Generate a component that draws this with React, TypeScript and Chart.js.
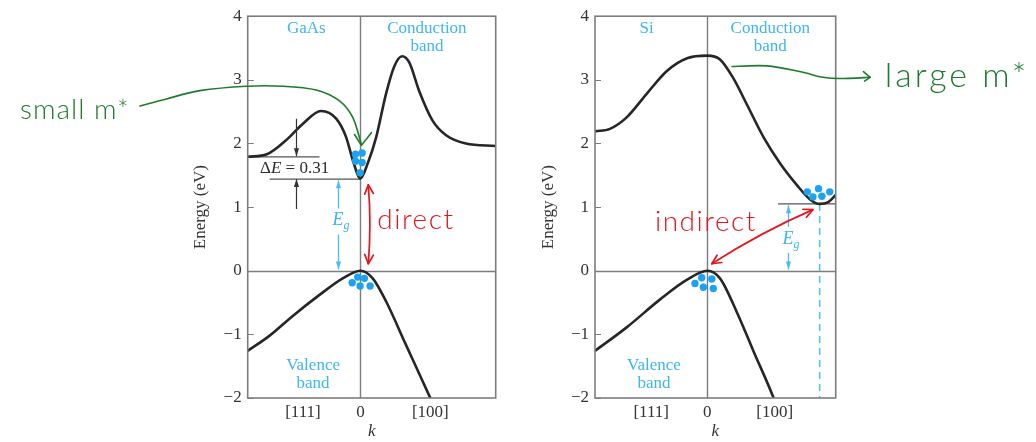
import React, { useEffect, useRef } from 'react';
import { Chart, registerables } from 'chart.js';
Chart.register(...registerables);

const SERIF = '"Liberation Serif", "Times New Roman", serif';
const HAND = 'Lato, "Open Sans", sans-serif';

type Pt = [number, number];

// ---------- shared axis data ----------
const yMin = -2;
const yMax = 4;
const xTickLabels = ['[111]', '0', '[100]'];

// ---------- GaAs ----------
const gaasXMax = 1.2;
const gaasXTicks = [-0.51, 0, 0.62];
const gaasCondK = [-1, -0.83, -0.66, -0.51, -0.35, -0.215, -0.127, -0.068, 0, 0.065, 0.14, 0.227, 0.3, 0.37, 0.434, 0.52, 0.64, 0.76, 0.935, 1.2];
const gaasCondE = [1.79, 1.83, 2.05, 2.31, 2.51, 2.39, 2.1, 1.74, 1.45, 1.69, 2.1, 2.78, 3.21, 3.37, 3.27, 2.83, 2.36, 2.13, 2.0, 1.96];
const gaasValK = [-1, -0.805, -0.6, -0.363, -0.157, 0, 0.109, 0.227, 0.4, 0.62, 0.67];
const gaasValE = [-1.26, -1.02, -0.71, -0.38, -0.12, 0, -0.12, -0.48, -1.15, -2.0, -2.2];
const gaasCondDotK = [-0.044, 0.015, -0.044, 0.015, -0.003];
const gaasCondDotE = [1.83, 1.85, 1.72, 1.7, 1.54];
const gaasValDotK = [-0.073, -0.024, 0.035, -0.003, 0.086];
const gaasValDotE = [-0.19, -0.1, -0.12, -0.24, -0.24];
const gaasRefUpperK = [-1, -0.363];
const gaasRefUpperE = [1.79, 1.79];
const gaasRefLowerK = [-0.805, 0];
const gaasRefLowerE = [1.44, 1.44];
const gaasLabels = ['GaAs', 'Conduction', 'band', 'Valence', 'band'];
const gaasLabelK = [-0.48, 0.59, 0.59, -0.42, -0.42];
const gaasLabelE = [3.8, 3.8, 3.52, -1.49, -1.78];
const gaasEg = { k: -0.2, top: 1.42, bottom: 0.02, label: 0.79 };
const gaasDeltaE = { k: -0.575, upperFrom: 2.39, upperTo: 1.8, lowerFrom: 0.97, lowerTo: 1.44, textK: -0.584, textE: 1.6 };
const gaasRed: Pt[] = [[0.07, 1.35], [0.07, 0.11]];
const gaasRedText = 'direct';
const gaasRedTextAt: Pt = [0.15, 0.66];
const gaasGreenPath: Pt[] = [[-1.956, 2.59], [-1.72, 2.7], [-1.425, 2.83], [-1.01, 2.9], [-0.687, 2.9], [-0.392, 2.84], [-0.186, 2.67], [-0.068, 2.41], [0.006, 2.0]];
const gaasGreenArms: Pt[] = [[-0.053, 2.14], [0.009, 1.97], [0.097, 2.17]];
const gaasGreenText = 'small m*';
const gaasGreenTextAt: Pt = [-3.02, 2.39];

// ---------- Si ----------
const siXMax = 1.143;
const siXTicks = [-0.5, 0, 0.6];
const siCondK = [-1, -0.867, -0.718, -0.54, -0.36, -0.18, 0, 0.113, 0.23, 0.35, 0.5, 0.647, 0.796, 0.915, 1.0, 1.077, 1.143];
const siCondE = [2.19, 2.23, 2.41, 2.78, 3.14, 3.34, 3.38, 3.32, 3.03, 2.62, 2.1, 1.69, 1.35, 1.12, 1.05, 1.08, 1.19];
const siValK = [-1, -0.718, -0.42, -0.18, 0, 0.113, 0.26, 0.41, 0.59, 0.64];
const siValE = [-1.26, -0.89, -0.45, -0.14, 0, -0.12, -0.64, -1.26, -2.0, -2.25];
const siCondDotK = [0.89, 0.99, 1.09, 0.94, 1.02];
const siCondDotE = [1.24, 1.29, 1.24, 1.16, 1.17];
const siValDotK = [-0.05, 0.04, -0.11, -0.035, 0.053];
const siValDotE = [-0.11, -0.13, -0.2, -0.26, -0.28];
const siRefK = [0.63, 1.143];
const siRefE = [1.05, 1.05];
const siDashK = [1.0, 1.0];
const siDashE = [1.05, -2];
const siLabels = ['Si', 'Conduction', 'band', 'Valence', 'band'];
const siLabelK = [-0.54, 0.56, 0.56, -0.475, -0.475];
const siLabelE = [3.8, 3.8, 3.52, -1.49, -1.78];
const siEg = { k: 0.72, top: 1.03, bottom: 0.02, label: 0.5 };
const siRed: Pt[] = [[0.04, 0.11], [0.94, 0.96]];
const siRedText = 'indirect';
const siRedTextAt: Pt = [-0.466, 0.63];
const siGreenPath: Pt[] = [[0.22, 3.21], [0.53, 3.22], [0.82, 3.13], [1.03, 3.04], [1.18, 3.02], [1.45, 3.04]];
const siGreenArms: Pt[] = [[1.39, 3.13], [1.45, 3.04], [1.4, 2.98]];
const siGreenText = 'large m*';
const siGreenTextAt: Pt = [1.58, 2.88];

// ---------- colours ----------
const CURVE = '#262626';
const AXIS = '#7d7d7d';
const CYAN_TEXT = '#3db5f2';
const CYAN_DOT = '#1da2f0';
const CYAN_LINE = '#4cbdf3';
const RED = '#e3161e';
const GREEN = '#1f7a2e';

const zip = (k: number[], e: number[]) => k.map((v, i) => ({ x: v, y: e[i] }));

interface Decor {
  labels: string[]; labelK: number[]; labelE: number[];
  eg: { k: number; top: number; bottom: number; label: number };
  deltaE?: typeof gaasDeltaE;
  red: Pt[]; redText: string; redTextAt: Pt; redFont: number;
  green: Pt[]; greenArms: Pt[]; greenText: string; greenTextAt: Pt; greenFont: number; greenSpacing: number;
}

function arrowHeadFilled(ctx: CanvasRenderingContext2D, tx: number, ty: number, fx: number, fy: number, len: number, half: number) {
  const a = Math.atan2(ty - fy, tx - fx);
  ctx.beginPath();
  ctx.moveTo(tx, ty);
  ctx.lineTo(tx - len * Math.cos(a) + half * Math.sin(a), ty - len * Math.sin(a) - half * Math.cos(a));
  ctx.lineTo(tx - len * Math.cos(a) - half * Math.sin(a), ty - len * Math.sin(a) + half * Math.cos(a));
  ctx.closePath();
  ctx.fill();
}

function arrowHeadOpen(ctx: CanvasRenderingContext2D, tx: number, ty: number, fx: number, fy: number, len: number, ang: number) {
  const a = Math.atan2(ty - fy, tx - fx);
  ctx.beginPath();
  ctx.moveTo(tx - len * Math.cos(a - ang), ty - len * Math.sin(a - ang));
  ctx.lineTo(tx, ty);
  ctx.lineTo(tx - len * Math.cos(a + ang), ty - len * Math.sin(a + ang));
  ctx.stroke();
}

function smooth(ctx: CanvasRenderingContext2D, pts: Pt[]) {
  ctx.beginPath();
  ctx.moveTo(pts[0][0], pts[0][1]);
  for (let i = 0; i < pts.length - 1; i++) {
    const p0 = pts[i - 1] || pts[i];
    const p1 = pts[i];
    const p2 = pts[i + 1];
    const p3 = pts[i + 2] || p2;
    ctx.bezierCurveTo(
      p1[0] + (p2[0] - p0[0]) / 6, p1[1] + (p2[1] - p0[1]) / 6,
      p2[0] - (p3[0] - p1[0]) / 6, p2[1] - (p3[1] - p1[1]) / 6,
      p2[0], p2[1]
    );
  }
  ctx.stroke();
}

function makeDecorPlugin(d: Decor) {
  return {
    id: 'decor',
    beforeDatasetsDraw(chart: any) {
      const { ctx, chartArea: ca, scales } = chart;
      const xs = scales.x, ys = scales.y;
      ctx.save();
      ctx.strokeStyle = AXIS;
      ctx.lineWidth = 1.4;
      const y0 = Math.round(ys.getPixelForValue(0)) + 0.5;
      const x0 = Math.round(xs.getPixelForValue(0)) + 0.5;
      ctx.beginPath();
      ctx.moveTo(ca.left, y0); ctx.lineTo(ca.right, y0);
      ctx.moveTo(x0, ca.top); ctx.lineTo(x0, ca.bottom);
      ctx.stroke();
      ctx.restore();
    },
    afterDatasetsDraw(chart: any) {
      const { ctx, chartArea: ca, scales } = chart;
      const xs = scales.x, ys = scales.y;
      const X = (v: number) => xs.getPixelForValue(v);
      const Y = (v: number) => ys.getPixelForValue(v);
      ctx.save();
      // frame
      ctx.strokeStyle = AXIS;
      ctx.lineWidth = 1.6;
      ctx.strokeRect(ca.left, ca.top, ca.right - ca.left, ca.bottom - ca.top);
      // inner ticks
      ctx.lineWidth = 1.2;
      ctx.beginPath();
      ys.ticks.forEach((t: any) => {
        const py = Math.round(Y(t.value)) + 0.5;
        ctx.moveTo(ca.left, py); ctx.lineTo(ca.left + 6, py);
      });
      ctx.stroke();

      // band labels
      ctx.fillStyle = CYAN_TEXT;
      ctx.font = `17px ${SERIF}`;
      ctx.textAlign = 'center';
      ctx.textBaseline = 'middle';
      d.labels.forEach((s, i) => ctx.fillText(s, X(d.labelK[i]), Y(d.labelE[i])));

      // delta E arrows + text
      if (d.deltaE) {
        const de = d.deltaE;
        ctx.strokeStyle = '#333';
        ctx.fillStyle = '#333';
        ctx.lineWidth = 1.2;
        const dx = Math.round(X(de.k)) + 0.5;
        ctx.beginPath();
        ctx.moveTo(dx, Y(de.upperFrom)); ctx.lineTo(dx, Y(de.upperTo));
        ctx.moveTo(dx, Y(de.lowerFrom)); ctx.lineTo(dx, Y(de.lowerTo));
        ctx.stroke();
        arrowHeadFilled(ctx, dx, Y(de.upperTo), dx, Y(de.upperFrom), 8, 2.6);
        arrowHeadFilled(ctx, dx, Y(de.lowerTo), dx, Y(de.lowerFrom), 8, 2.6);
        const parts: [string, string][] = [['Δ', ''], ['E', 'italic '], [' = 0.31', '']];
        let total = 0;
        parts.forEach(([s, st]) => { ctx.font = `${st}17px ${SERIF}`; total += ctx.measureText(s).width; });
        let cx = X(de.textK) - total / 2;
        const cy = Y(de.textE);
        ctx.textAlign = 'left';
        ctx.fillStyle = '#2a2a2a';
        parts.forEach(([s, st]) => {
          ctx.font = `${st}17px ${SERIF}`;
          ctx.fillText(s, cx, cy);
          cx += ctx.measureText(s).width;
        });
      }

      // Eg arrow
      const ex = Math.round(X(d.eg.k)) + 0.5;
      ctx.strokeStyle = CYAN_LINE;
      ctx.fillStyle = CYAN_LINE;
      ctx.lineWidth = 1.3;
      ctx.beginPath();
      ctx.moveTo(ex, Y(d.eg.top)); ctx.lineTo(ex, Y(d.eg.bottom));
      ctx.stroke();
      arrowHeadFilled(ctx, ex, Y(d.eg.top), ex, Y(d.eg.bottom), 8, 2.6);
      arrowHeadFilled(ctx, ex, Y(d.eg.bottom), ex, Y(d.eg.top), 8, 2.6);
      const ly = Y(d.eg.label);
      ctx.fillStyle = '#ffffff';
      ctx.fillRect(ex - 8, ly - 12, 20, 26);
      ctx.fillStyle = CYAN_TEXT;
      ctx.textAlign = 'left';
      ctx.textBaseline = 'alphabetic';
      ctx.font = `italic 18px ${SERIF}`;
      ctx.fillText('E', ex - 6, ly + 5);
      const ew = ctx.measureText('E').width;
      ctx.font = `italic 12px ${SERIF}`;
      ctx.fillText('g', ex - 6 + ew, ly + 9);

      // red hand-drawn arrow and text
      ctx.strokeStyle = RED;
      ctx.fillStyle = RED;
      ctx.lineWidth = 1.7;
      ctx.lineCap = 'round';
      ctx.lineJoin = 'round';
      const [a, b] = d.red;
      const ax = X(a[0]), ay = Y(a[1]), bx = X(b[0]), by = Y(b[1]);
      const mx = (ax + bx) / 2 + (by - ay) * 0.04, my = (ay + by) / 2 - (bx - ax) * 0.04;
      ctx.beginPath();
      ctx.moveTo(ax, ay);
      ctx.quadraticCurveTo(mx, my, bx, by);
      ctx.stroke();
      arrowHeadOpen(ctx, ax, ay, mx, my, 10, 0.45);
      arrowHeadOpen(ctx, bx, by, mx, my, 10, 0.45);
      ctx.font = `300 ${d.redFont}px ${HAND}`;
      (ctx as any).letterSpacing = '1.5px';
      ctx.textAlign = 'left';
      ctx.textBaseline = 'alphabetic';
      ctx.fillText(d.redText, X(d.redTextAt[0]), Y(d.redTextAt[1]));

      // green hand-drawn arrow and text
      ctx.strokeStyle = GREEN;
      ctx.fillStyle = GREEN;
      ctx.lineWidth = 1.6;
      smooth(ctx, d.green.map(([k, e]) => [X(k), Y(e)] as Pt));
      ctx.beginPath();
      d.greenArms.forEach(([k, e], i) => (i === 0 ? ctx.moveTo(X(k), Y(e)) : ctx.lineTo(X(k), Y(e))));
      ctx.stroke();
      ctx.font = `300 ${d.greenFont}px ${HAND}`;
      (ctx as any).letterSpacing = `${d.greenSpacing}px`;
      ctx.fillText(d.greenText, X(d.greenTextAt[0]), Y(d.greenTextAt[1]));
      (ctx as any).letterSpacing = '0px';
      ctx.restore();
    },
  };
}

function lineDs(data: { x: number; y: number }[], color: string, width: number, extra: any = {}) {
  return {
    data,
    showLine: true,
    borderColor: color,
    backgroundColor: color,
    borderWidth: width,
    pointRadius: 0,
    fill: false,
    order: 2,
    ...extra,
  };
}

function dotDs(data: { x: number; y: number }[]) {
  return { data, showLine: false, pointRadius: 3.7, pointBorderWidth: 0, backgroundColor: CYAN_DOT, borderColor: CYAN_DOT, order: 0 };
}

function buildConfig(datasets: any[], xMax: number, xTicks: number[], padL: number, padR: number, decor: Decor): any {
  return {
    type: 'scatter',
    data: { datasets },
    options: {
      responsive: false,
      animation: false,
      events: [],
      layout: { padding: { left: padL, right: padR, top: 11, bottom: 0 } },
      plugins: { legend: { display: false }, tooltip: { enabled: false } },
      scales: {
        x: {
          type: 'linear',
          min: -1,
          max: xMax,
          afterBuildTicks: (s: any) => { s.ticks = xTicks.map((v) => ({ value: v })); },
          afterFit: (s: any) => { s.height = 44; },
          ticks: {
            callback: (_v: any, i: number) => xTickLabels[i],
            font: { family: SERIF, size: 17 },
            color: '#333',
            padding: 4,
            maxRotation: 0,
            autoSkip: false,
          },
          grid: { display: false, drawTicks: false },
          border: { display: false },
          title: { display: true, text: 'k', font: { family: SERIF, size: 17, style: 'italic' }, color: '#333', padding: 0 },
        },
        y: {
          type: 'linear',
          min: yMin,
          max: yMax,
          afterFit: (s: any) => { s.width = 57; },
          ticks: {
            stepSize: 1,
            callback: (v: number) => (v < 0 ? '\u2212' + Math.abs(v) : String(v)),
            font: { family: SERIF, size: 17 },
            color: '#333',
            padding: 6,
          },
          grid: { display: false, drawTicks: false },
          border: { display: false },
          title: { display: true, text: 'Energy (eV)', font: { family: SERIF, size: 17 }, color: '#333', padding: 0 },
        },
      },
    },
    plugins: [makeDecorPlugin(decor)],
  };
}

const gaasDecor: Decor = {
  labels: gaasLabels, labelK: gaasLabelK, labelE: gaasLabelE,
  eg: gaasEg, deltaE: gaasDeltaE,
  red: gaasRed, redText: gaasRedText, redTextAt: gaasRedTextAt, redFont: 28,
  green: gaasGreenPath, greenArms: gaasGreenArms, greenText: gaasGreenText, greenTextAt: gaasGreenTextAt, greenFont: 28, greenSpacing: 1,
};

const siDecor: Decor = {
  labels: siLabels, labelK: siLabelK, labelE: siLabelE,
  eg: siEg,
  red: siRed, redText: siRedText, redTextAt: siRedTextAt, redFont: 28,
  green: siGreenPath, greenArms: siGreenArms, greenText: siGreenText, greenTextAt: siGreenTextAt, greenFont: 34, greenSpacing: 3,
};

export default function App() {
  const leftRef = useRef<HTMLCanvasElement>(null);
  const rightRef = useRef<HTMLCanvasElement>(null);

  useEffect(() => {
    const mono = { cubicInterpolationMode: 'monotone' };
    const left = new Chart(leftRef.current as HTMLCanvasElement, buildConfig([
      dotDs(zip(gaasCondDotK, gaasCondDotE)),
      dotDs(zip(gaasValDotK, gaasValDotE)),
      lineDs(zip(gaasCondK, gaasCondE), CURVE, 2.6, mono),
      lineDs(zip(gaasValK, gaasValE), CURVE, 2.6, mono),
      lineDs(zip(gaasRefUpperK, gaasRefUpperE), '#555', 1.3, { order: 3 }),
      lineDs(zip(gaasRefLowerK, gaasRefLowerE), '#555', 1.3, { order: 3 }),
    ], gaasXMax, gaasXTicks, 190.7, 24.3, gaasDecor));

    const right = new Chart(rightRef.current as HTMLCanvasElement, buildConfig([
      dotDs(zip(siCondDotK, siCondDotE)),
      dotDs(zip(siValDotK, siValDotE)),
      lineDs(zip(siCondK, siCondE), CURVE, 2.6, mono),
      lineDs(zip(siValK, siValE), CURVE, 2.6, mono),
      lineDs(zip(siRefK, siRefE), '#555', 1.3, { order: 3 }),
      lineDs(zip(siDashK, siDashE), CYAN_LINE, 1.5, { order: 3, borderDash: [7, 5] }),
    ], siXMax, siXTicks, 18, 200.3, siDecor));

    return () => { left.destroy(); right.destroy(); };
  }, []);

  return (
    <div style={{ position: 'fixed', left: 0, top: 0, width: 1036, height: 442, background: '#fff' }}>
      <canvas ref={leftRef} width={520} height={442} style={{ position: 'absolute', left: 0, top: 0, width: 520, height: 442 }} />
      <canvas ref={rightRef} width={516} height={442} style={{ position: 'absolute', left: 520, top: 0, width: 516, height: 442 }} />
    </div>
  );
}
